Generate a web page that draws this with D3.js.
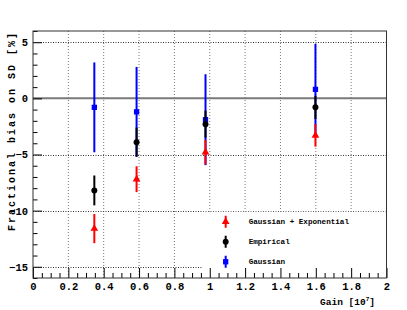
<!DOCTYPE html>
<html>
<head>
<meta charset="utf-8">
<script src="https://cdn.jsdelivr.net/npm/d3@7"></script>
<style>
  body { margin: 0; background: #fff; }
  text { font-family: 'Liberation Mono', 'DejaVu Sans Mono', monospace; font-weight: bold; }
</style>
</head>
<body>
<div id="chart"></div>
<script>
// gain values (x) for the four points
const gain = [0.347, 0.586, 0.976, 1.598]

// fractional bias on SD [%] and its errors
const gaussExpBias = [-11.6, -7.2, -4.8, -3.3]
const gaussExpErr = [1.3, 1.15, 1.1, 1.0]
const empiricalBias = [-8.2, -3.9, -2.3, -0.8]
const empiricalErr = [1.33, 1.3, 1.2, 1.03]
const gaussianBias = [-0.8, -1.2, -1.9, 0.8]
const gaussianErr = [4.0, 4.0, 4.05, 4.05]

const xTicks = [0, 0.2, 0.4, 0.6, 0.8, 1, 1.2, 1.4, 1.6, 1.8, 2]
const yTicks = [-15, -10, -5, 0, 5]

const series = [
  { name: 'Gaussian + Exponential', y: gaussExpBias, err: gaussExpErr, color: '#ff0000', marker: d3.symbolTriangle },
  { name: 'Empirical', y: empiricalBias, err: empiricalErr, color: '#000000', marker: d3.symbolCircle },
  { name: 'Gaussian', y: gaussianBias, err: gaussianErr, color: '#0000ff', marker: d3.symbolSquare }
]

function graph(id) {
  const W = 407
  const H = 310
  const margin = { top: 31, right: 20.5, bottom: 32, left: 33 }
  const width = W - margin.left - margin.right
  const height = H - margin.top - margin.bottom

  const xScale = d3.scaleLinear().domain([0, 2]).range([0, width])
  const yScale = d3.scaleLinear().domain([-16, 6]).range([height, 0])

  const svg = d3.select(id).append('svg').attr('width', W).attr('height', H)
  const g = svg.append('g').attr('transform', `translate(${margin.left},${margin.top})`)

  // grid
  g.append('g')
    .selectAll('line')
    .data(xTicks.slice(1, -1))
    .enter()
    .append('line')
    .attr('x1', (d) => xScale(d))
    .attr('x2', (d) => xScale(d))
    .attr('y1', 0)
    .attr('y2', height)
    .attr('stroke', '#777')
    .attr('stroke-dasharray', '1,2')
  g.append('g')
    .selectAll('line')
    .data(yTicks.filter((d) => d !== 0))
    .enter()
    .append('line')
    .attr('x1', 0)
    .attr('x2', width)
    .attr('y1', (d) => Math.round(yScale(d)) + 0.5)
    .attr('y2', (d) => Math.round(yScale(d)) + 0.5)
    .attr('stroke', '#333')
    .attr('stroke-dasharray', '1,1.5')

  // zero line
  g.append('line')
    .attr('x1', 0)
    .attr('x2', width)
    .attr('y1', yScale(0))
    .attr('y2', yScale(0))
    .attr('stroke', '#7a7a7a')
    .attr('stroke-width', 2)

  // legend box covers grid
  const leg = g.append('g').attr('transform', `translate(${xScale(0.96)},${yScale(-10.1)})`)
  leg.append('rect')
    .attr('width', width - xScale(0.96))
    .attr('height', height - yScale(-10.1))
    .attr('fill', '#fff')

  const markerSize = (s) => (s.marker === d3.symbolTriangle ? 26 : 28)

  // error bars + markers, gaussian drawn first so others sit on top
  series.slice().reverse().forEach(function (s) {
    const pg = g.append('g')
    pg.selectAll('line')
      .data(gain)
      .enter()
      .append('line')
      .attr('x1', (d) => xScale(d))
      .attr('x2', (d) => xScale(d))
      .attr('y1', (d, i) => yScale(s.y[i] + s.err[i]))
      .attr('y2', (d, i) => yScale(s.y[i] - s.err[i]))
      .attr('stroke', s.color)
      .attr('stroke-width', 2)
    pg.selectAll('path')
      .data(gain)
      .enter()
      .append('path')
      .attr('transform', (d, i) => `translate(${xScale(d)},${yScale(s.y[i])})`)
      .attr('d', d3.symbol().type(s.marker).size(markerSize(s)))
      .attr('fill', s.color)
  })

  // axes
  const yAxis = d3.axisLeft(yScale).tickValues(yTicks).tickSize(-9).tickSizeOuter(0).tickPadding(5)
    .tickFormat((d) => (d < 0 ? '\u2212' + Math.abs(d) : d))
  const yMinor = d3.axisLeft(yScale).tickValues(d3.range(-16, 7).filter((d) => d % 5 !== 0))
    .tickSize(-4.5).tickSizeOuter(0).tickFormat('')
  const xAxis = d3.axisBottom(xScale).tickValues(xTicks).tickSize(-10).tickSizeOuter(0).tickPadding(5)
    .tickFormat(d3.format('~g'))
  const xMinor = d3.axisBottom(xScale).tickValues(d3.range(0, 2.0001, 0.05).filter((d, i) => i % 4 !== 0))
    .tickSize(-5).tickSizeOuter(0).tickFormat('')

  g.append('g').call(yMinor)
  g.append('g').call(yAxis)
  g.append('g').attr('transform', `translate(0,${height})`).call(xMinor)
  g.append('g').attr('transform', `translate(0,${height})`).call(xAxis)
  g.selectAll('.tick text').attr('font-size', 10.5).attr('fill', '#000')
    .style('font-family', "'Liberation Mono', monospace")
  g.selectAll('.domain').remove()

  // frame
  g.append('rect')
    .attr('width', width)
    .attr('height', height)
    .attr('fill', 'none')
    .attr('stroke', '#333')

  // legend entries
  series.forEach(function (s, i) {
    const ly = 10 + i * 20
    leg.append('line')
      .attr('x1', 23).attr('x2', 23)
      .attr('y1', ly - 6).attr('y2', ly + 6)
      .attr('stroke', s.color).attr('stroke-width', 2)
    leg.append('path')
      .attr('transform', `translate(23,${ly})`)
      .attr('d', d3.symbol().type(s.marker).size(markerSize(s)))
      .attr('fill', s.color)
    leg.append('text')
      .attr('x', 46)
      .attr('y', ly + 2.5)
      .attr('font-size', 7.6)
      .text(s.name)
  })

  // axis titles
  const xt = svg.append('text')
    .attr('x', 375)
    .attr('y', 305)
    .attr('text-anchor', 'end')
    .attr('font-size', 9.5)
  xt.append('tspan').text('Gain [10')
  xt.append('tspan').attr('dy', -4).attr('font-size', 6).text('7')
  xt.append('tspan').attr('dy', 4).text(']')

  svg.append('text')
    .attr('transform', 'translate(15,31) rotate(-90)')
    .attr('text-anchor', 'end')
    .attr('font-size', 10)
    .attr('letter-spacing', 2)
    .text('Fractional bias on SD [%]')
}

graph('#chart')
</script>
</body>
</html>
